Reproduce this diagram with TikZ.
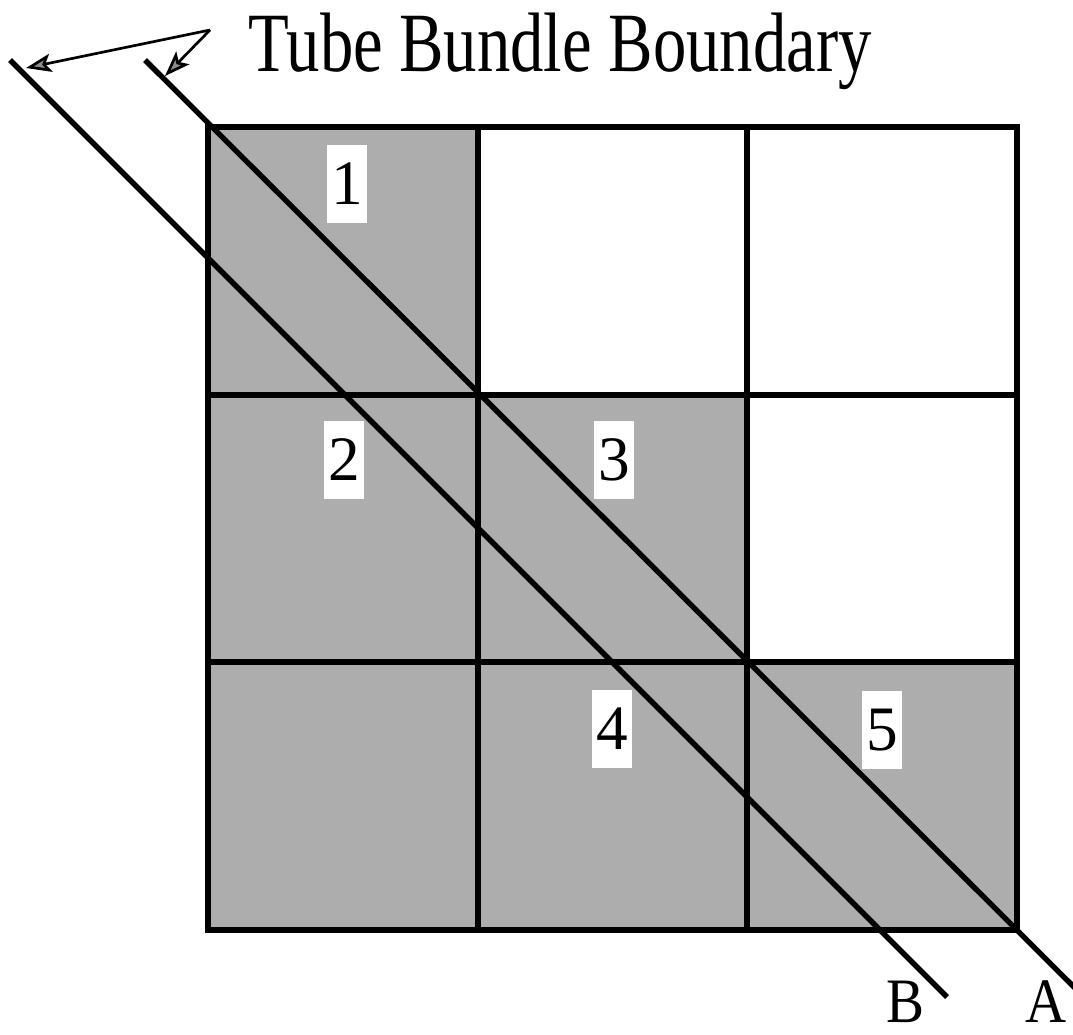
\documentclass[tikz,border=0pt]{standalone}
\usepackage{graphicx}
\usepackage{fontspec}
\setmainfont{Liberation Serif}
\usetikzlibrary{arrows.meta}

\begin{document}
\begin{tikzpicture}[
    x=0.025cm, y=-0.025cm,
    >={Stealth[length=18pt, width=13pt, inset=4pt, fill=black!45]},
    grid/.style={line width=4.4pt, line cap=rect},
    boundary/.style={line width=3.8pt},
    pointer/.style={->, line width=1.9pt},
    num/.style={
        fill=white,
        inner sep=0pt,
        minimum width=29pt,
        minimum height=56pt,
        font=\fontsize{45}{45}\selectfont
    },
    side/.style={anchor=base, inner sep=0pt, font=\fontsize{45}{45}\selectfont}
]
    \useasboundingbox (0,0) rectangle (1073,1034);

    % Shaded cells
    \fill[black!32] (208,127) -- (477,127) -- (477,394) -- (747,394) -- (747,662)
        -- (1017,662) -- (1017,930) -- (208,930) -- cycle;

    % Grid
    \foreach \i in {0,...,3} {
        \draw[grid] (208+\i*269.67, 127) -- (208+\i*269.67, 930);
        \draw[grid] (208, 127+\i*267.67) -- (1017, 127+\i*267.67);
    }

    % Boundary lines
    \coordinate (atop) at (145,60);
    \coordinate (abot) at (1079,992);
    \coordinate (btop) at (10,60);
    \coordinate (bbot) at (947,997);
    \draw[boundary] (atop) -- (abot);
    \draw[boundary] (btop) -- (bbot);

    % Cell numbers
    \node[num] (n1) at (347,184) {1};
    \node[num] (n2) at (344,460) {2};
    \node[num] (n3) at (614,460) {3};
    \node[num] (n4) at (612,729) {4};
    \node[num] (n5) at (882,730) {5};

    % Line names
    \node[side] (lb) at (905,1022) {\scalebox{0.9}[1]{B}};
    \node[side] (la) at (1046,1022) {\scalebox{0.9}[1]{A}};

    % Title and pointers
    \node[anchor=base west, inner sep=0pt, font=\fontsize{60}{62}\selectfont] (title) at (248,71)
        {\scalebox{0.79}[1]{Tube Bundle Boundary}};
    \coordinate (apex) at (210,30);
    \coordinate (tipb) at (26,68);
    \coordinate (tipa) at (165,76);
    \draw[pointer] (apex) -- (tipb);
    \draw[pointer] (apex) -- (tipa);

\end{tikzpicture}
\end{document}
